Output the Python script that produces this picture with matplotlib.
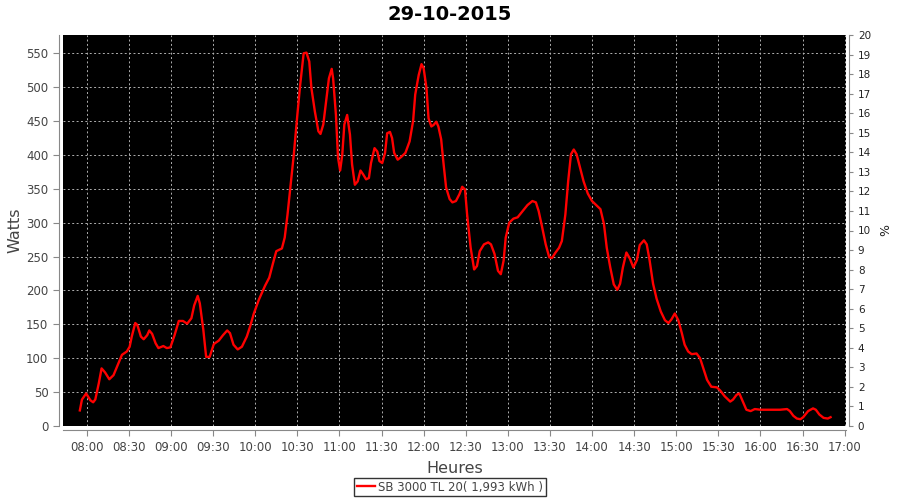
import matplotlib
matplotlib.use("Agg")
import matplotlib.pyplot as plt

# minutes after 08:00 and power in watts
minutes = [-5, -3.5, -0.5, 2.5, 4.5, 6, 8.5, 10.5, 13, 16, 19, 22, 25, 28.5, 30.5, 32,
           34.5, 36, 38.5, 40.5, 43, 44.5, 46.5, 49, 51, 54.5, 57, 59.5, 62.5, 65.5,
           68.5, 71.5, 74.5, 76.5, 79, 80.5, 83, 85, 87.5, 90.5, 94, 97, 100, 102,
           104.5, 107.5, 110.5, 114, 116.5, 119, 122.5, 125.5, 127, 130, 132.5, 135,
           139, 141, 143, 145, 147.5, 150, 152, 154.5, 156.5, 158.5, 160, 162.5, 165,
           166.5, 168.5, 170.5, 172.5, 174.5, 175.5, 177.5, 179, 180.5, 182, 183.5,
           185.5, 187.5, 189, 191, 193, 195, 197, 199, 201, 202.5, 205, 207, 208.5,
           210.5, 212.5, 214, 216, 217.5, 219, 221.5, 224, 227, 230, 232.5, 234, 236.5,
           238.5, 240, 242, 243.5, 245.5, 247, 249, 250.5, 252.5, 254, 256, 258.5,
           260.5, 263, 265.5, 267.5, 269.5, 271, 273.5, 276, 278, 280, 283, 286, 288,
           290.5, 293, 295, 297, 298.5, 301, 304, 307, 310.5, 314, 317.5, 320, 322,
           324.5, 327, 329.5, 331.5, 334, 336.5, 338.5, 341, 343, 345, 347, 349, 351.5,
           354, 357, 360, 363, 366, 368.5, 370.5, 373, 375.5, 378, 380, 382, 384.5,
           387, 389.5, 392, 394, 397, 399, 401, 403.5, 406, 409, 412, 414.5, 416.5,
           419, 421.5, 424, 426, 428.5, 431, 434.5, 437, 439.5, 442, 445, 449, 451.5,
           454.5, 458.5, 460.5, 463, 465, 467.5, 470, 473, 476, 480, 487, 494, 499,
           501, 503.5, 506, 508.5, 510.5, 514, 517.5, 519.5, 522, 525, 528, 530]
watts = [23, 39, 48, 38, 35, 39, 63, 85, 79, 69, 75, 90, 105, 110, 117, 132,
         152, 149, 132, 128, 134, 141, 136, 122, 115, 118, 115, 116, 134, 155,
         155, 151, 159, 178, 192, 181, 142, 102, 102, 121, 126, 134, 141, 137,
         120, 113, 117, 132, 148, 166, 186, 200, 207, 219, 239, 258,
         262, 278, 312, 352, 401, 459, 503, 550, 551, 538, 499, 464, 435,
         431, 445, 479, 513, 527, 513, 459, 396, 377, 400, 445,
         459, 430, 386, 356, 361, 377, 371, 364, 366, 388, 410, 405, 391,
         388, 403, 432, 434, 425, 403, 393, 397, 403, 420, 450, 489, 518,
         534, 528, 499, 454, 442, 444, 449, 442, 423, 391, 352, 335,
         330, 332, 342, 353, 349, 312, 263, 231, 236, 258, 268, 271, 268,
         254, 229, 224, 244, 278, 300, 306, 308, 317, 326, 332, 330, 317,
         293, 268, 249, 248, 256, 263, 273, 312, 361, 401, 408, 401, 381,
         361, 343, 332, 326, 320, 298, 263, 234, 209, 201, 210, 234, 256,
         247, 234, 245, 267, 274, 268, 245, 210, 188, 169, 156, 152, 157,
         166, 156, 137, 120, 110, 106, 107, 100, 84, 68, 58, 57, 52,
         44, 36, 39, 46, 48, 36, 24, 22, 25, 24, 24, 24, 25,
         22, 15, 11, 10, 13, 22, 26, 24, 17, 12, 11, 13]

tick_minutes = list(range(0, 541, 30))
tick_labels = ["08:00", "08:30", "09:00", "09:30", "10:00", "10:30", "11:00",
               "11:30", "12:00", "12:30", "13:00", "13:30", "14:00", "14:30",
               "15:00", "15:30", "16:00", "16:30", "17:00"]
watt_ticks = list(range(0, 551, 50))
pct_ticks = list(range(0, 21))

title = "29-10-2015"
legend_label = "SB 3000 TL 20( 1,993 kWh )"

txt = "#444444"
axc = "#888888"

fig = plt.figure(figsize=(9, 5), dpi=100)
ax = fig.add_axes([0.07, 0.148, 0.87, 0.782])
ax.set_facecolor("black")

line, = ax.plot(minutes, watts, color="#ff0000", lw=1.7, label=legend_label)

ax.set_xlim(-17, 541)
ax.set_ylim(0, 577)
ax.set_xticks(tick_minutes)
ax.set_xticklabels(tick_labels)
ax.set_yticks(watt_ticks)
ax.grid(True, color="#b0b0b0", ls=(0, (2, 2.5)), lw=0.7)

for side in ["top", "right"]:
    ax.spines[side].set_visible(False)
for side in ["left", "bottom"]:
    ax.spines[side].set_position(("outward", 3))
    ax.spines[side].set_color(axc)
ax.tick_params(colors=axc, labelcolor=txt, labelsize=8.5, length=4, width=0.8)

ax.set_ylabel("Watts", color=txt, fontsize=11.5, labelpad=3)
ax.set_xlabel("Heures", color=txt, fontsize=11.5, labelpad=5)

ax2 = ax.twinx()
ax2.set_ylim(0, 20)
ax2.set_yticks(pct_ticks)
for side in ["top", "left", "bottom"]:
    ax2.spines[side].set_visible(False)
ax2.spines["right"].set_position(("outward", 2))
ax2.spines["right"].set_color(axc)
ax2.tick_params(colors=axc, labelcolor="#222222", labelsize=7.5, length=3, width=0.8)
ax2.set_ylabel("%", color="#222222", fontsize=9, labelpad=6)

fig.text(0.5, 0.972, title, ha="center", va="center", fontsize=14, fontweight="bold")

leg = fig.legend(handles=[line], loc="center", bbox_to_anchor=(0.5, 0.026),
                 fontsize=8.5, frameon=True, fancybox=False, handlelength=1.5,
                 handletextpad=0.3, borderpad=0.25, borderaxespad=0)
leg.get_frame().set_edgecolor("black")
leg.get_frame().set_linewidth(1)
for t in leg.get_texts():
    t.set_color(txt)

fig.savefig("out.png", dpi=100)
